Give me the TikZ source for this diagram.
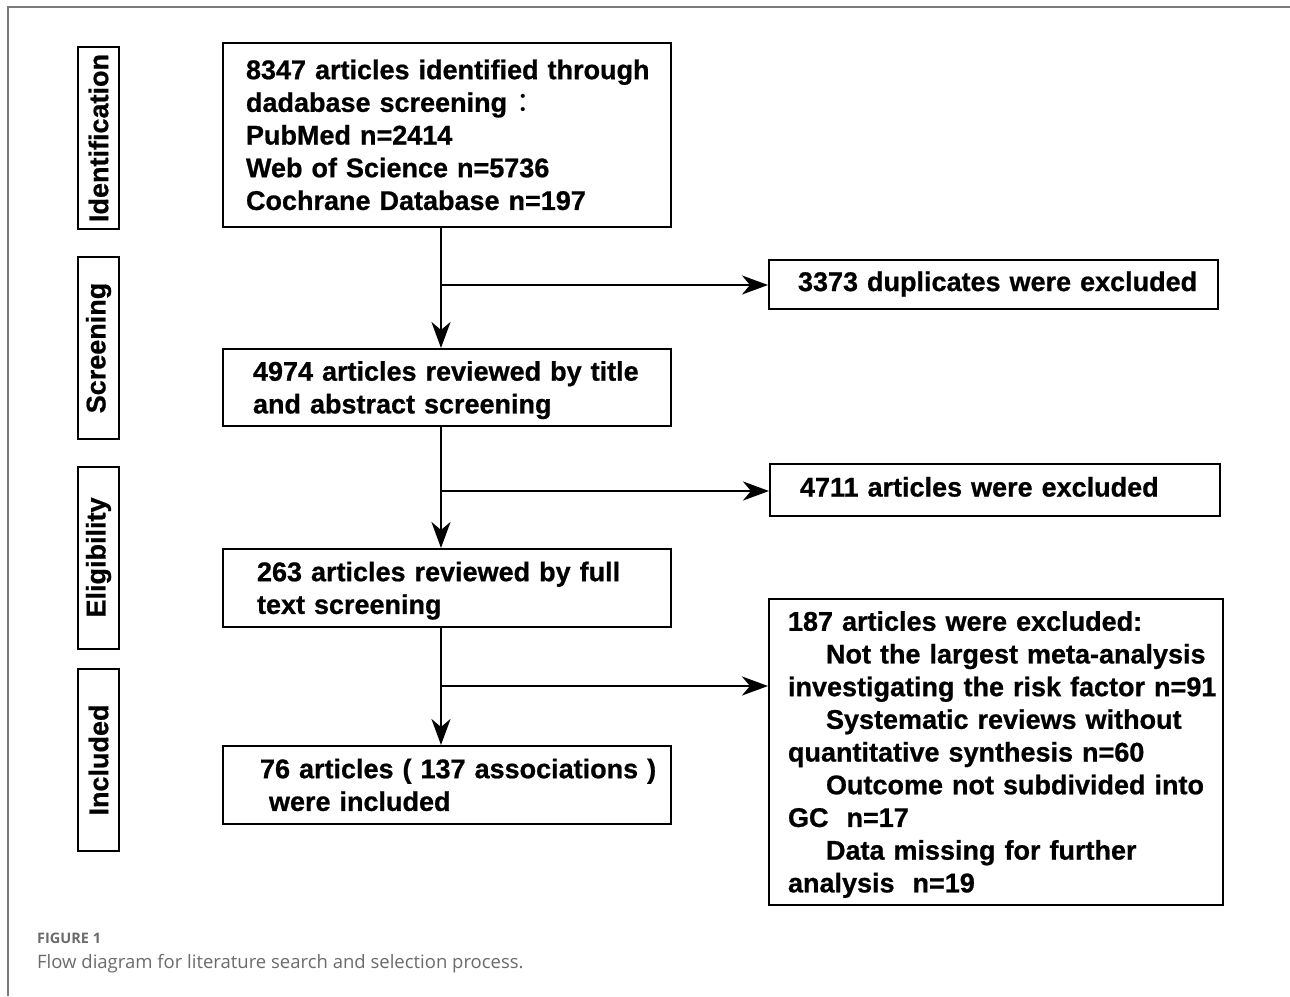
\documentclass[tikz,border=0pt]{standalone}
\usepackage{fontspec}
\setmainfont{Liberation Sans}[BoldFeatures={FakeBold=0.8}]
\newfontfamily\capfont{Open Sans}
\newfontfamily\cjkfont{Noto Sans CJK SC}
\usetikzlibrary{arrows.meta}
\definecolor{framegray}{HTML}{7A7A7A}
\definecolor{capgray}{HTML}{6B6B6B}
\newcommand{\boxtext}[2]{\hspace*{#1}\raisebox{-3pt}[\height][\depth]{\begin{tabular}{@{}l@{}}#2\end{tabular}}}
\newcommand{\linetext}[2]{\hspace*{#1}\begin{tabular}{@{}l@{}}#2\end{tabular}}
\newcommand{\ind}{\hspace*{38pt}}
\tikzset{
  flowbox/.style={draw, line width=2pt, inner sep=0pt, anchor=north west, align=left,
    font=\fontsize{27}{32.7}\selectfont\bfseries},
  stagebox/.style={draw, line width=2pt, inner sep=0pt, rotate=90,
    minimum width=182pt, minimum height=41pt,
    font=\fontsize{27}{32.7}\selectfont\bfseries},
  conn/.style={line width=2.5pt, -{Stealth[length=26pt, width=19pt, inset=8pt]}},
}
\begin{document}
\begin{tikzpicture}[x=1pt, y=-1pt]
\useasboundingbox (0,0) rectangle (1290,996);
\draw[framegray, line width=2pt] (8,996) -- (8,7) -- (1290,7);

% stage labels
\node[stagebox] (sid) at (98.5,138) {Identification};
\node[stagebox] (sscr) at (98.5,348) {Screening};
\node[stagebox] (selig) at (98.5,557.5) {Eligibility};
\node[stagebox] (sinc) at (98.5,760) {Included};

% main boxes
\node[flowbox, text width=448pt, minimum height=184pt] (b1) at (222,42)
  {\boxtext{23pt}{8347 articles identified through\\dadabase screening {\mdseries\cjkfont ：}\\PubMed n=2414\\Web of Science n=5736\\Cochrane Database n=197}};
\node[flowbox, text width=448pt, minimum height=77pt] (b2) at (222,348)
  {\boxtext{30pt}{4974 articles reviewed by title\\and abstract screening}};
\node[flowbox, text width=448pt, minimum height=78pt] (b3) at (222,548)
  {\boxtext{34pt}{263 articles reviewed by full\\text screening}};
\node[flowbox, text width=448pt, minimum height=78pt] (b4) at (222,745)
  {\boxtext{37pt}{76 articles ( 137 associations )\\\hspace*{9pt}were included}};

% exclusion boxes
\node[flowbox, text width=449pt, minimum height=49pt] (e1) at (768,259)
  {\linetext{29pt}{3373 duplicates were excluded}};
\node[flowbox, text width=450pt, minimum height=52pt] (e2) at (769,463)
  {\linetext{30pt}{4711 articles were excluded}};
\node[flowbox, text width=454pt, minimum height=306pt] (e3) at (768,598)
  {\boxtext{19pt}{187 articles were excluded:\\
  \ind Not the largest meta-analysis\\
  investigating the risk factor n=91\\
  \ind Systematic reviews without\\
  quantitative synthesis n=60\\
  \ind Outcome not subdivided into\\
  GC\ \ n=17\\
  \ind Data missing for further\\
  analysis\ \ n=19}};

% branch points
\coordinate (c1) at (441,285);
\coordinate (c2) at (441,491);
\coordinate (c3) at (441,686);

\draw[conn] (b1.south -| c1) -- (b2.north -| c1);
\draw[conn] (c1) -- (c1 -| e1.west);
\draw[conn] (b2.south -| c2) -- (b3.north -| c2);
\draw[conn] (c2) -- (c2 -| e2.west);
\draw[conn] (b3.south -| c3) -- (b4.north -| c3);
\draw[conn] (c3) -- (c3 -| e3.west);

% caption
\node[anchor=base west, inner sep=0pt, text=capgray, font=\capfont\bfseries\fontsize{14.5}{16}\selectfont] (fig) at (37,943) {FIGURE 1};
\node[anchor=base west, inner sep=0pt, text=capgray, font=\capfont\fontsize{18.5}{22}\selectfont] (cap) at (37,968) {Flow diagram for literature search and selection process.};
\end{tikzpicture}
\end{document}
